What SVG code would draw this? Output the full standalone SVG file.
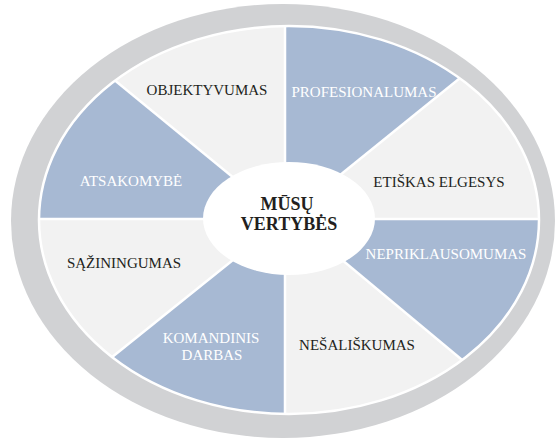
<svg xmlns="http://www.w3.org/2000/svg" width="556" height="439" viewBox="0 0 556 439">
  <style>
    .blue { fill: #a7b9d3; }
    .light { fill: #f2f2f2; }
    .sep { stroke: #ffffff; stroke-width: 2.5; fill: none; }
    .lbl { font-family: "Liberation Serif", "Times New Roman", serif; font-size: 15px; text-anchor: middle; }
    .dark { fill: #231f20; }
    .white { fill: #ffffff; }
    .title { font-family: "Liberation Serif", "Times New Roman", serif; font-size: 18px; font-weight: bold; text-anchor: middle; fill: #231f20; }
  </style>
  <defs>
    <clipPath id="inner">
      <ellipse cx="289" cy="220" rx="250" ry="194"/>
    </clipPath>
  </defs>
  <rect width="556" height="439" fill="#ffffff"/>
  <g id="ring">
    <ellipse cx="283" cy="221" rx="272" ry="217" fill="#d1d2d4"/>
  </g>
  <g clip-path="url(#inner)">
    <ellipse cx="289" cy="220" rx="250" ry="194" class="light"/>
    <g id="objektyvumas">
      <polygon class="light" points="285,219 -10,-22 285,-22"/>
      <text class="lbl dark" x="207" y="95">OBJEKTYVUMAS</text>
    </g>
    <g id="profesionalumas">
      <polygon class="blue" points="285,219 285,-10 569,-10 287,219"/>
      <text class="lbl white" x="364" y="97">PROFESIONALUMAS</text>
    </g>
    <g id="etiskas-elgesys">
      <polygon class="light" points="287,219 569,-10 600,-10 600,219"/>
      <text class="lbl dark" x="439" y="187">ETIŠKAS ELGESYS</text>
    </g>
    <g id="nepriklausomumas">
      <polygon class="blue" points="293,219 600,219 600,475"/>
      <text class="lbl white" x="446" y="259">NEPRIKLAUSOMUMAS</text>
    </g>
    <g id="nesaliskumas">
      <polygon class="light" points="290,219 697,556 285,556"/>
      <text class="lbl dark" x="357" y="350">NEŠALIŠKUMAS</text>
    </g>
    <g id="komandinis-darbas">
      <polygon class="blue" points="285,219 285,460 -16,460"/>
      <text class="lbl white" x="211" y="343">KOMANDINIS</text>
      <text class="lbl white" x="212" y="360">DARBAS</text>
    </g>
    <g id="saziningumas">
      <polygon class="light" points="284,219 -10,219 -10,455"/>
      <text class="lbl dark" x="124" y="268">SĄŽININGUMAS</text>
    </g>
    <g id="atsakomybe">
      <polygon class="blue" points="284,219 -10,219 -10,-22"/>
      <text class="lbl white" x="131" y="186">ATSAKOMYBĖ</text>
    </g>
    <g id="connectors">
      <line class="sep" x1="285" y1="218" x2="285" y2="0"/>
      <line class="sep" x1="287" y1="218" x2="569" y2="-10"/>
      <line class="sep" x1="287" y1="219" x2="600" y2="219"/>
      <line class="sep" x1="293" y1="219" x2="600" y2="475"/>
      <line class="sep" x1="285" y1="219" x2="285" y2="460"/>
      <line class="sep" x1="284" y1="219" x2="-16" y2="460"/>
      <line class="sep" x1="284" y1="219" x2="-10" y2="219"/>
      <line class="sep" x1="284" y1="219" x2="-10" y2="-22"/>
    </g>
  </g>
  <ellipse cx="289" cy="220" rx="250" ry="194" fill="none" stroke="#ffffff" stroke-width="2.5"/>
  <g id="center">
    <ellipse cx="289" cy="218.5" rx="86" ry="56.5" fill="#ffffff"/>
    <text class="title" x="287" y="210">MŪSŲ</text>
    <text class="title" x="289" y="230">VERTYBĖS</text>
  </g>
</svg>
